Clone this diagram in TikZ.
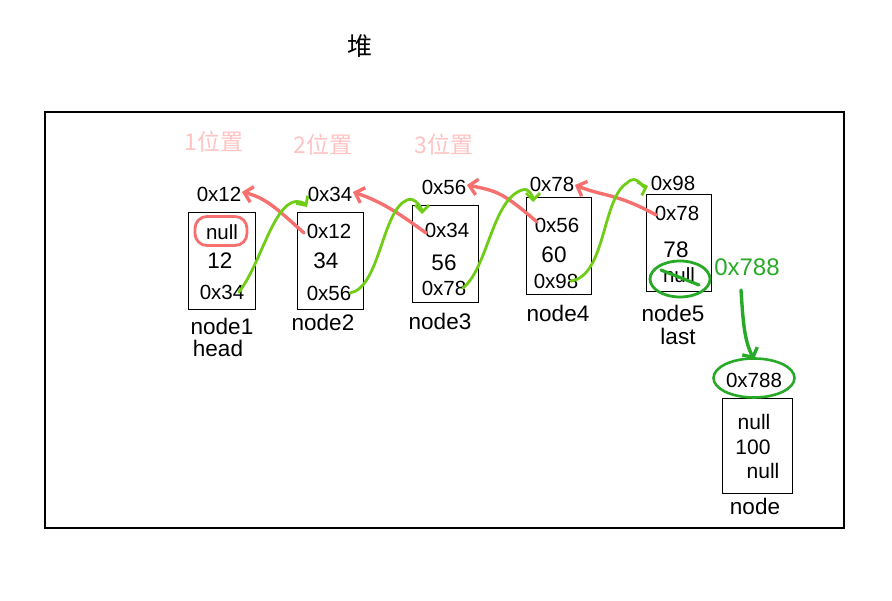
\documentclass[tikz,border=0pt]{standalone}
\usepackage{fontspec}
\setmainfont{Liberation Sans}
\newfontfamily\cjk{Noto Sans CJK SC}
\usetikzlibrary{arrows.meta,shapes.geometric}
\definecolor{redarr}{RGB}{246,112,112}
\definecolor{limeg}{RGB}{110,205,20}
\definecolor{darkg}{RGB}{40,170,40}
\definecolor{pinkt}{RGB}{255,195,195}
\begin{document}
\begin{tikzpicture}[x=1pt,y=-1pt,
  boxs/.style={draw,line width=1.3pt,inner sep=0pt,anchor=north west},
  addr/.style={inner sep=0.5pt,font=\fontsize{20.5}{21}\selectfont},
  val/.style={inner sep=0.5pt,font=\fontsize{22.5}{23}\selectfont},
  lbl/.style={inner sep=0.5pt,font=\fontsize{22.5}{23}\selectfont},
  poslbl/.style={inner sep=0.5pt,text=pinkt,font=\cjk\fontsize{23}{23}\selectfont},
  redline/.style={draw=redarr,line width=3.4pt,line cap=round,-{Straight Barb[length=8pt,width=16pt]}},
  greenline/.style={draw=limeg,line width=2.8pt,line cap=round,-{Straight Barb[length=7pt,width=14pt]}}
]
\useasboundingbox (0,0) rectangle (892,601);
% heap frame
\node[boxs,line width=1.6pt,minimum width=799pt,minimum height=416pt] (heap) at (44,111) {};
\node[inner sep=0pt,font=\cjk\fontsize{25}{25}\selectfont] (title) at (360,46) {堆};
% position labels
\node[poslbl] (p1) at (214,142) {1位置};
\node[poslbl] (p2) at (323,145) {2位置};
\node[poslbl] (p3) at (444,145) {3位置};
% boxes
\node[boxs,minimum width=67pt,minimum height=97pt] (b1) at (188,212) {};
\node[boxs,minimum width=66pt,minimum height=97pt] (b2) at (297,212) {};
\node[boxs,minimum width=66pt,minimum height=97pt] (b3) at (412,205) {};
\node[boxs,minimum width=65pt,minimum height=97pt] (b4) at (526,197) {};
\node[boxs,minimum width=65pt,minimum height=97pt] (b5) at (646,194) {};
\node[boxs,minimum width=70pt,minimum height=95pt] (b6) at (722,398) {};
% node1
\node[addr] (a1) at (219,194) {0x12};
\node[addr] (pr1) at (222,232) {null};
\node[val] (v1) at (220,261) {12};
\node[addr] (nx1) at (222,292) {0x34};
\node[lbl] (l1) at (222,326) {node1};
\node[lbl] (h1) at (218,348) {head};
% node2
\node[addr] (a2) at (330,194) {0x34};
\node[addr] (pr2) at (329,231) {0x12};
\node[val] (v2) at (326,261) {34};
\node[addr] (nx2) at (329,293) {0x56};
\node[lbl] (l2) at (323,322) {node2};
% node3
\node[addr] (a3) at (444,187) {0x56};
\node[addr] (pr3) at (447,230) {0x34};
\node[val] (v3) at (444,263) {56};
\node[addr] (nx3) at (444,288) {0x78};
\node[lbl] (l3) at (440,321) {node3};
% node4
\node[addr] (a4) at (552,184) {0x78};
\node[addr] (pr4) at (557,225) {0x56};
\node[val] (v4) at (554,255) {60};
\node[addr] (nx4) at (556,281) {0x98};
\node[lbl] (l4) at (558,313) {node4};
% node5
\node[addr] (a5) at (673,183) {0x98};
\node[addr] (pr5) at (677,213) {0x78};
\node[val] (v5) at (676,250) {78};
\node[addr] (nx5) at (679,275) {null};
\node[lbl] (l5) at (673,313) {node5};
\node[lbl] (la5) at (678,336) {last};
% new node
\node[addr,text=darkg,font=\fontsize{24}{24}\selectfont] (g788) at (747,267) {0x788};
\node[addr] (a6) at (754,380) {0x788};
\node[val,font=\fontsize{21}{21}\selectfont] (pr6) at (754,422) {null};
\node[val,font=\fontsize{21}{21}\selectfont] (v6) at (753,447) {100};
\node[val,font=\fontsize{21}{21}\selectfont] (nx6) at (763,471) {null};
\node[lbl] (l6) at (755,506) {node};
% circles
\node[draw=redarr,line width=2.8pt,rounded corners=12pt,minimum width=52pt,minimum height=29pt] (c1) at (221,231) {};
\node[draw=darkg,ellipse,line width=2.8pt,minimum width=60pt,minimum height=36pt] (c5) at (680,279) {};
\node[draw=darkg,ellipse,line width=2.6pt,minimum width=81pt,minimum height=39pt] (c6) at (754,378) {};
% red (prev) arrows
\draw[redline] ([xshift=-2pt,yshift=-2pt]pr2.west) .. controls +(-25,-22) and +(25,6) .. ([yshift=2pt]a1.east);
\draw[redline] ([xshift=2pt,yshift=-3pt]pr3.west) .. controls +(-25,-18) and +(30,10) .. ([yshift=2pt]a2.east);
\draw[redline] ([xshift=3pt,yshift=3pt]pr4.west) .. controls +(-35,-30) and +(30,6) .. ([yshift=2pt]a3.east);
\draw[redline] ([xshift=2pt,yshift=-2pt]pr5.west) .. controls +(-40,-22) and +(30,12) .. ([yshift=-1pt]a4.east);
% green (next) arrows
\draw[greenline] ([xshift=-6pt]nx1.east) .. controls +(20,-25) and +(-20,10) .. (291,203) .. controls +(8,-4) and +(-2,-3) .. (307,207);
\draw[greenline] ([xshift=-2pt]nx2.east) .. controls +(30,-5) and +(-25,10) .. (407,200) .. controls +(8,-4) and +(0,-5) .. (422,214);
\draw[greenline] ([xshift=-4pt]nx3.east) .. controls +(25,-20) and +(-30,10) .. (522,190) .. controls +(8,-3) and +(0,-4) .. (533,202);
\draw[greenline] ([xshift=-8pt]nx4.east) .. controls +(35,-5) and +(-25,15) .. (627,183) .. controls +(10,-10) and +(-6,2) .. ([xshift=-2pt,yshift=-3pt]a5.west);
% green stroke in node5 null and arrow down
\draw[draw=darkg,line width=3.2pt,line cap=round] (661,270) -- (699,285);
\draw[draw=darkg,line width=3.4pt,line cap=round,-{Straight Barb[length=7pt,width=17pt]}] (741,290) .. controls (743,320) and (744,340) .. ([yshift=-2pt]c6.north);
\end{tikzpicture}
\end{document}
